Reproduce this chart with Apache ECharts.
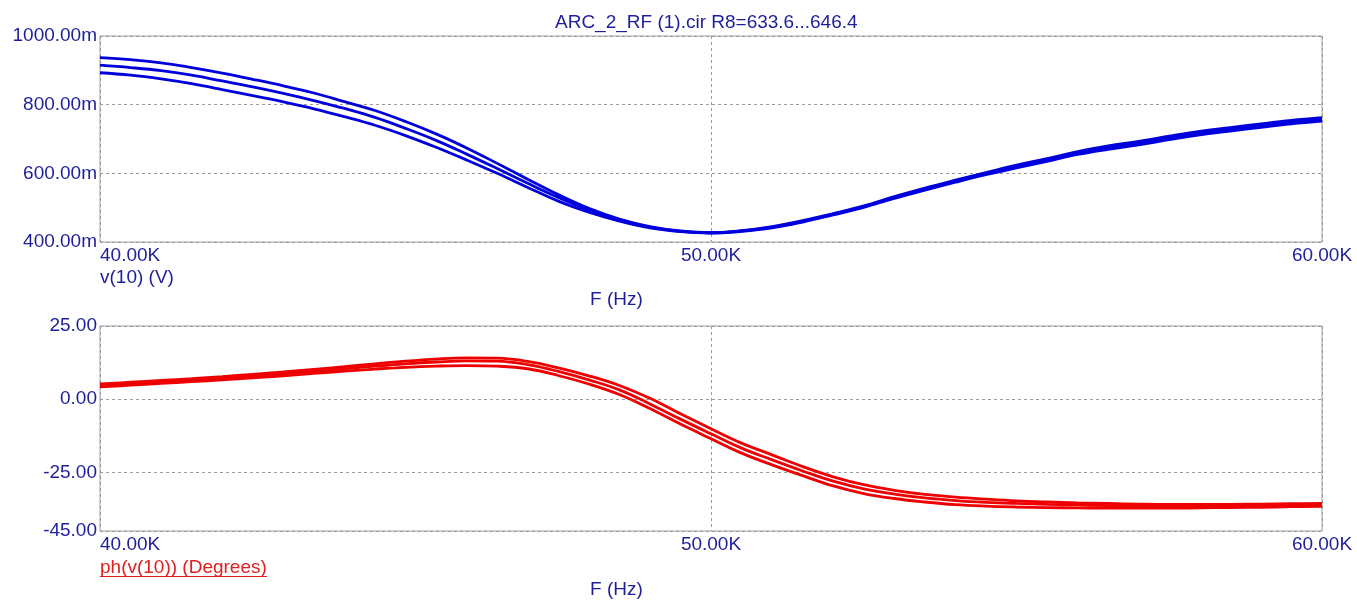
<!DOCTYPE html>
<html>
<head>
<meta charset="utf-8">
<title>ARC_2_RF (1).cir</title>
<script src="https://cdn.jsdelivr.net/npm/echarts@6/dist/echarts.min.js"></script>
<style>
  html, body { margin: 0; padding: 0; background: #ffffff; }
  #chart { width: 1357px; height: 601px; }
</style>
</head>
<body>
<div id="chart"></div>
<script>
// Frequency sweep points (Hz), 0.5 kHz steps
const freq = [
  40000, 40500, 41000, 41500, 42000, 42500, 43000, 43500, 44000, 44500,
  45000, 45500, 46000, 46500, 47000, 47500, 48000, 48500, 49000, 49500,
  50000, 50500, 51000, 51500, 52000, 52500, 53000, 53500, 54000, 54500,
  55000, 55500, 56000, 56500, 57000, 57500, 58000, 58500, 59000, 59500, 60000
];

// v(10) magnitude in mV, one array per R8 step
const magA = [
  937, 931, 922, 908, 892, 874, 855, 834, 809, 783,
  751, 715, 674, 629, 583, 538, 498, 467, 445, 432,
  427, 433, 445, 462, 483, 505, 532, 557, 580, 602,
  624, 643, 663, 680, 693, 708, 722, 733, 744, 754, 762
];
const magB = [
  915, 908, 899, 886, 869, 852, 833, 812, 789, 763,
  731, 696, 656, 614, 571, 530, 494, 465, 443, 431,
  427, 432, 443, 460, 481, 503, 530, 554, 577, 599,
  620, 639, 659, 675, 688, 703, 717, 728, 739, 749, 757
];
const magC = [
  893, 886, 875, 861, 844, 826, 808, 788, 765, 740,
  710, 676, 639, 600, 559, 519, 487, 461, 441, 430,
  426, 431, 441, 458, 479, 501, 527, 551, 574, 596,
  616, 635, 655, 670, 683, 698, 712, 723, 734, 744, 752
];

// ph(v(10)) in degrees, one array per R8 step
const phA = [
  5.2, 5.8, 6.4, 7.0, 7.7, 8.5, 9.3, 10.2, 11.1, 12.1,
  13.0, 13.7, 14.1, 14.0, 12.9, 10.7, 8.0, 4.7, 0.3, -5.0,
  -10.1, -15.0, -19.0, -23.0, -26.5, -29.2, -31.1, -32.5, -33.4, -34.1,
  -34.7, -35.1, -35.4, -35.6, -35.8, -35.9, -35.9, -35.9, -35.8, -35.7, -35.6
];
const phB = [
  4.7, 5.3, 5.9, 6.5, 7.2, 7.9, 8.7, 9.5, 10.4, 11.3,
  12.1, 12.7, 13.1, 13.0, 11.8, 9.5, 6.6, 3.2, -1.6, -6.8,
  -11.8, -16.7, -20.7, -24.5, -28.0, -30.6, -32.4, -33.7, -34.6, -35.2,
  -35.6, -35.9, -36.1, -36.3, -36.4, -36.5, -36.5, -36.4, -36.3, -36.2, -36.1
];
const phC = [
  4.2, 4.8, 5.4, 6.0, 6.6, 7.3, 8.0, 8.8, 9.6, 10.3,
  10.9, 11.3, 11.5, 11.3, 10.4, 8.1, 5.2, 1.6, -3.2, -8.5,
  -13.5, -18.4, -22.4, -26.1, -29.6, -32.2, -33.9, -35.1, -36.0, -36.5,
  -36.8, -37.0, -37.1, -37.2, -37.2, -37.2, -37.1, -37.0, -36.9, -36.7, -36.6
];

const freqTicks = [40000, 50000, 60000];
const magTicks = [400, 600, 800, 1000];
const phaseTicks = [-45, -25, 0, 25];

const titleText = 'ARC_2_RF (1).cir R8=633.6...646.4';
const magLabel = 'v(10) (V)';
const phaseLabel = 'ph(v(10)) (Degrees)';
const xLabel = 'F (Hz)';

const FONT = "'Liberation Sans', Arial, sans-serif";
const TEXT_BLUE = '#1e1e9a';
const LINE_BLUE = '#0000dd';
const LINE_RED = '#ee0000';
const TEXT_RED = '#dd2020';
const GRID_GRAY = '#9a9a9a';

const pairs = (xs, ys) => xs.map((x, i) => [x, ys[i]]);

function lineSeries(xi, yi, ys, color) {
  return {
    type: 'line',
    xAxisIndex: xi,
    yAxisIndex: yi,
    data: pairs(freq, ys),
    smooth: 0.4,
    showSymbol: false,
    silent: true,
    lineStyle: { color: color, width: 2.8 },
    z: 3
  };
}

const xAxisBase = {
  type: 'value',
  min: freqTicks[0],
  max: freqTicks[freqTicks.length - 1],
  interval: 10000,
  axisLine: { show: false },
  axisTick: { show: false },
  axisLabel: {
    color: TEXT_BLUE,
    fontFamily: FONT,
    fontSize: 19,
    margin: 4,
    alignMinLabel: 'left',
    alignMaxLabel: 'center',
    formatter: v => (v / 1000).toFixed(2) + 'K'
  },
  splitLine: { show: true, lineStyle: { color: GRID_GRAY, type: [3, 3], width: 1 } }
};

const chart = echarts.init(document.getElementById('chart'), null, { renderer: 'canvas' });

chart.setOption({
  backgroundColor: '#ffffff',
  animation: false,
  grid: [
    { left: 100, top: 36, width: 1222, height: 206, show: true, borderColor: '#a0a0a0', borderWidth: 1, backgroundColor: 'transparent' },
    { left: 100, top: 326, width: 1222, height: 205, show: true, borderColor: '#a0a0a0', borderWidth: 1, backgroundColor: 'transparent' }
  ],
  xAxis: [
    Object.assign({ gridIndex: 0 }, xAxisBase),
    Object.assign({ gridIndex: 1 }, xAxisBase)
  ],
  yAxis: [
    {
      gridIndex: 0,
      type: 'value',
      min: magTicks[0],
      max: magTicks[magTicks.length - 1],
      interval: 200,
      axisLine: { show: false },
      axisTick: { show: false },
      axisLabel: {
        color: TEXT_BLUE, fontFamily: FONT, fontSize: 19, margin: 3,
        formatter: v => v.toFixed(2) + 'm'
      },
      splitLine: { show: true, lineStyle: { color: GRID_GRAY, type: [3, 3], width: 1 } }
    },
    {
      gridIndex: 1,
      type: 'value',
      min: phaseTicks[0],
      max: phaseTicks[phaseTicks.length - 1],
      axisLine: { show: false },
      axisTick: { show: false, customValues: phaseTicks },
      axisLabel: {
        color: TEXT_BLUE, fontFamily: FONT, fontSize: 19, margin: 3,
        customValues: phaseTicks,
        formatter: v => v.toFixed(2)
      },
      splitLine: { show: true, lineStyle: { color: GRID_GRAY, type: [3, 3], width: 1 } }
    }
  ],
  series: [
    lineSeries(0, 0, magA, LINE_BLUE),
    lineSeries(0, 0, magB, LINE_BLUE),
    lineSeries(0, 0, magC, LINE_BLUE),
    lineSeries(1, 1, phA, LINE_RED),
    lineSeries(1, 1, phB, LINE_RED),
    lineSeries(1, 1, phC, LINE_RED)
  ],
  graphic: [
    {
      type: 'text', left: 555, top: 13,
      style: { text: titleText, fill: TEXT_BLUE, font: '19px ' + FONT }
    },
    {
      type: 'text', left: 100, top: 268,
      style: { text: magLabel, fill: TEXT_BLUE, font: '19px ' + FONT }
    },
    {
      type: 'text', left: 590, top: 290,
      style: { text: xLabel, fill: TEXT_BLUE, font: '19px ' + FONT }
    },
    {
      type: 'text', left: 100, top: 558,
      style: { text: phaseLabel, fill: TEXT_RED, font: '19px ' + FONT }
    },
    {
      type: 'line',
      shape: { x1: 100, y1: 576.5, x2: 267, y2: 576.5 },
      style: { stroke: TEXT_RED, lineWidth: 1 }
    },
    {
      type: 'text', left: 590, top: 580,
      style: { text: xLabel, fill: TEXT_BLUE, font: '19px ' + FONT }
    }
  ]
});
</script>
</body>
</html>
